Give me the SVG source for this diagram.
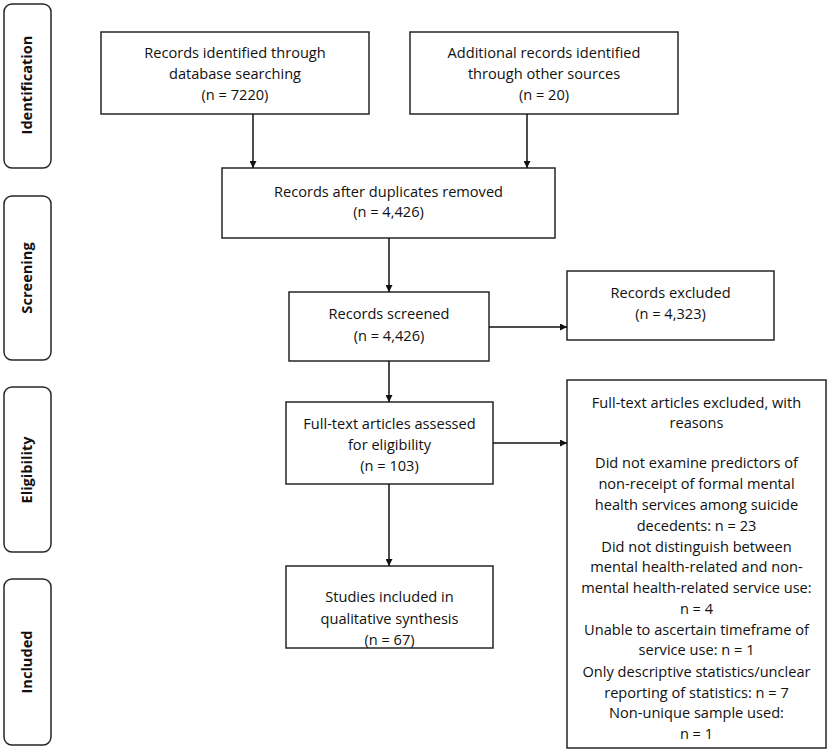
<svg xmlns="http://www.w3.org/2000/svg" width="829" height="754" viewBox="0 0 829 754">
<style>
  .box { fill: #fff; stroke: #262626; stroke-width: 1.5; }
  .phase { fill: #fff; stroke: #262626; stroke-width: 1.5; }
  .t { font-family: "Open Sans", "Liberation Sans", sans-serif; font-size: 14.6px; fill: #111; text-anchor: middle; }
  .p { font-family: "Open Sans", "Liberation Sans", sans-serif; font-size: 14.6px; font-weight: bold; fill: #111; text-anchor: middle; }
  .c { stroke: #111; stroke-width: 1.5; fill: none; marker-end: url(#arr); }
</style>
<defs>
  <marker id="arr" viewBox="0 0 10 10" refX="10" refY="5" markerWidth="7" markerHeight="7" markerUnits="userSpaceOnUse" orient="auto">
    <path d="M0,0 L10,5 L0,10 z" fill="#111"/>
  </marker>
</defs>
<rect width="829" height="754" fill="#fff"/>

<g id="phase-identification">
  <rect class="phase" x="4" y="4" width="47" height="164" rx="8"/>
  <text class="p" transform="translate(32,85) rotate(-90)">Identification</text>
</g>
<g id="phase-screening">
  <rect class="phase" x="4" y="196" width="47" height="164" rx="8"/>
  <text class="p" transform="translate(32,278) rotate(-90)">Screening</text>
</g>
<g id="phase-eligibility">
  <rect class="phase" x="4" y="387" width="47" height="165" rx="8"/>
  <text class="p" transform="translate(32,470) rotate(-90)">Eligibility</text>
</g>
<g id="phase-included">
  <rect class="phase" x="4" y="579" width="47" height="166" rx="8"/>
  <text class="p" transform="translate(32,662) rotate(-90)">Included</text>
</g>

<g id="node-database">
  <rect class="box" x="101" y="32" width="268" height="82"/>
  <text class="t" x="235" y="58">Records identified through</text>
  <text class="t" x="235" y="79">database searching</text>
  <text class="t" x="235" y="100">(n = 7220)</text>
</g>
<g id="node-other">
  <rect class="box" x="410" y="32" width="268" height="82"/>
  <text class="t" x="544" y="58">Additional records identified</text>
  <text class="t" x="544" y="79">through other sources</text>
  <text class="t" x="544" y="100">(n = 20)</text>
</g>
<g id="node-duplicates">
  <rect class="box" x="222" y="168" width="333" height="70"/>
  <text class="t" x="388.5" y="197">Records after duplicates removed</text>
  <text class="t" x="388.5" y="217">(n = 4,426)</text>
</g>
<g id="node-screened">
  <rect class="box" x="289" y="292" width="200" height="69"/>
  <text class="t" x="389" y="319">Records screened</text>
  <text class="t" x="389" y="341">(n = 4,426)</text>
</g>
<g id="node-excluded">
  <rect class="box" x="567" y="271" width="207" height="69"/>
  <text class="t" x="670.5" y="298">Records excluded</text>
  <text class="t" x="670.5" y="319">(n = 4,323)</text>
</g>
<g id="node-fulltext">
  <rect class="box" x="286" y="402" width="207" height="82"/>
  <text class="t" x="389.5" y="429">Full-text articles assessed</text>
  <text class="t" x="389.5" y="450">for eligibility</text>
  <text class="t" x="389.5" y="471">(n = 103)</text>
</g>
<g id="node-fulltext-excluded">
  <rect class="box" x="567" y="380" width="259" height="368"/>
  <text class="t" x="696.5" y="408">Full-text articles excluded, with</text>
  <text class="t" x="696.5" y="428">reasons</text>
  <text class="t" x="696.5" y="468">Did not examine predictors of</text>
  <text class="t" x="696.5" y="489">non-receipt of formal mental</text>
  <text class="t" x="696.5" y="510">health services among suicide</text>
  <text class="t" x="696.5" y="531">decedents: n = 23</text>
  <text class="t" x="696.5" y="552">Did not distinguish between</text>
  <text class="t" x="696.5" y="572">mental health-related and non-</text>
  <text class="t" x="696.5" y="593">mental health-related service use:</text>
  <text class="t" x="696.5" y="614">n = 4</text>
  <text class="t" x="696.5" y="635">Unable to ascertain timeframe of</text>
  <text class="t" x="696.5" y="655">service use: n = 1</text>
  <text class="t" x="696.5" y="677">Only descriptive statistics/unclear</text>
  <text class="t" x="696.5" y="698">reporting of statistics: n = 7</text>
  <text class="t" x="696.5" y="718">Non-unique sample used:</text>
  <text class="t" x="696.5" y="739">n = 1</text>
</g>
<g id="node-included">
  <rect class="box" x="286" y="566" width="207" height="82"/>
  <text class="t" x="389.5" y="602">Studies included in</text>
  <text class="t" x="389.5" y="624">qualitative synthesis</text>
  <text class="t" x="389.5" y="645">(n = 67)</text>
</g>

<g id="connectors">
  <line class="c" x1="253" y1="114" x2="253" y2="168"/>
  <line class="c" x1="527" y1="114" x2="527" y2="168"/>
  <line class="c" x1="389" y1="238" x2="389" y2="292"/>
  <line class="c" x1="489" y1="327" x2="567" y2="327"/>
  <line class="c" x1="389" y1="361" x2="389" y2="402"/>
  <line class="c" x1="493" y1="443" x2="567" y2="443"/>
  <line class="c" x1="389" y1="484" x2="389" y2="566"/>
</g>
</svg>
